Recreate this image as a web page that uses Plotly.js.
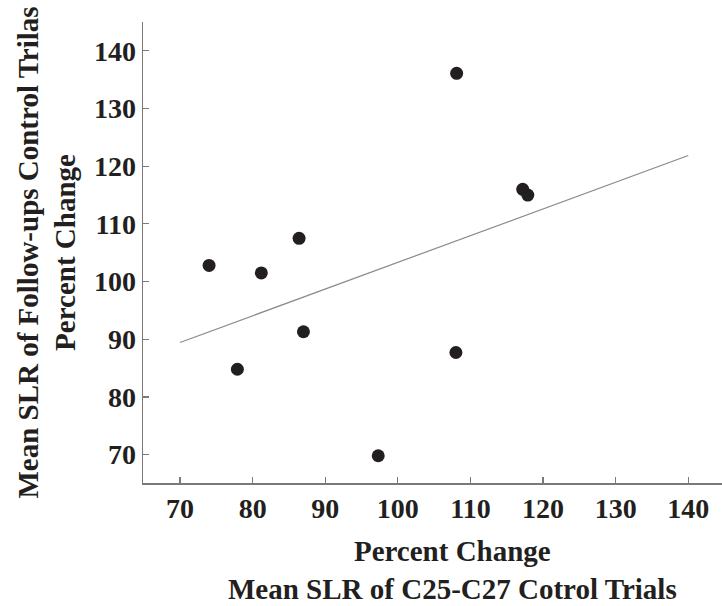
<!DOCTYPE html>
<html>
<head>
<meta charset="utf-8">
<script src="https://cdn.plot.ly/plotly-3.0.1.min.js"></script>
<style>html,body{margin:0;padding:0;background:#fff;}#chart{width:722px;height:606px;}</style>
</head>
<body>
<div id="chart"></div>
<script>
// Data
const controlChange = [74.0, 77.9, 81.2, 86.4, 87.0, 97.3, 108.0, 108.1, 117.2, 117.9];
const followUpChange = [102.8, 84.8, 101.5, 107.5, 91.3, 69.8, 87.7, 136.1, 116.0, 115.0];
const fitSpan = [70, 140];
const tickValues = [70, 80, 90, 100, 110, 120, 130, 140];
const xTitleLines = ['Percent Change', 'Mean SLR of C25-C27 Cotrol Trials'];
const yTitleLines = ['Mean SLR of Follow-ups Control Trilas', 'Percent Change'];

// Least-squares fit line computed from the data
const n = controlChange.length;
const mx = controlChange.reduce((a, b) => a + b, 0) / n;
const my = followUpChange.reduce((a, b) => a + b, 0) / n;
let sxy = 0, sxx = 0;
for (let i = 0; i < n; i++) {
  sxy += (controlChange[i] - mx) * (followUpChange[i] - my);
  sxx += (controlChange[i] - mx) ** 2;
}
const slope = sxy / sxx;
const intercept = my - slope * mx;
const fitY = fitSpan.map(x => intercept + slope * x);

const ink = '#231f20';
const serif = 'Liberation Serif, Times New Roman, serif';

const traces = [
  {
    x: fitSpan, y: fitY, type: 'scatter', mode: 'lines',
    line: {color: '#8a8a8a', width: 1.2}, hoverinfo: 'skip', showlegend: false
  },
  {
    x: controlChange, y: followUpChange, type: 'scatter', mode: 'markers',
    marker: {color: ink, size: 13}, showlegend: false
  }
];

const layout = {
  width: 722, height: 606,
  margin: {l: 143, r: 0, t: 22, b: 123},
  paper_bgcolor: '#fff', plot_bgcolor: '#fff',
  font: {family: serif, color: ink, size: 28},
  xaxis: {
    range: [64.9, 144.65], tickvals: tickValues, ticktext: tickValues.map(String),
    showgrid: false, zeroline: false, showline: true, linecolor: '#7a7a7a', linewidth: 1.5,
    ticks: 'inside', ticklen: 6, tickcolor: '#7a7a7a', tickwidth: 1.2,
    tickfont: {family: serif, size: 28, color: ink, weight: 'bold'}
  },
  yaxis: {
    range: [65.08, 145], tickvals: tickValues, ticktext: tickValues.map(String),
    showgrid: false, zeroline: false, showline: true, linecolor: '#7a7a7a', linewidth: 1.5,
    ticks: 'inside', ticklen: 6, tickcolor: '#7a7a7a', tickwidth: 1.2,
    tickfont: {family: serif, size: 28, color: ink, weight: 'bold'},
    title: {text: yTitleLines.map(s => '<b>' + s + '</b>').join('<br>'),
            font: {family: serif, size: 29, color: ink}, standoff: 9}
  },
  annotations: [{
    xref: 'paper', yref: 'paper', x: 0.535, y: -0.189,
    xanchor: 'center', yanchor: 'middle', showarrow: false,
    text: xTitleLines.map(s => '<b>' + s + '</b>').join('<br>'),
    font: {family: serif, size: 29, color: ink}
  }]
};

Plotly.newPlot('chart', traces, layout, {displayModeBar: false, staticPlot: true});
</script>
</body>
</html>
